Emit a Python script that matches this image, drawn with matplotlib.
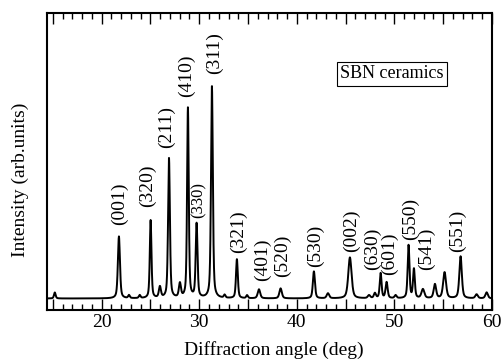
import numpy as np
import matplotlib
matplotlib.use('Agg')
import matplotlib.pyplot as plt
from matplotlib.ticker import MultipleLocator, FuncFormatter

plt.rcParams['font.family'] = ['Liberation Serif', 'DejaVu Serif']

# peak list: 2theta (deg), height (arb.), width (deg), label
pos = [15.2, 21.77, 22.8, 23.9, 25.02, 25.97, 26.9, 28.02, 28.84, 29.73, 31.3,
       32.6, 33.86, 34.9, 36.12, 38.34, 41.75, 43.19, 45.44, 47.4, 48.0, 48.59,
       49.2, 50.12, 51.45, 52.0, 52.92, 54.15, 55.14, 56.78, 58.42, 59.45]
height = [6, 62, 3, 3, 78, 11, 140, 14, 190, 74, 212,
          3, 39, 3, 9, 10, 27, 5, 41, 3, 5, 25,
          16, 3, 53, 29, 9, 14, 26, 42, 4, 6]
fwhm = [0.2, 0.25, 0.2, 0.2, 0.2, 0.25, 0.22, 0.25, 0.2, 0.22, 0.22,
        0.2, 0.22, 0.2, 0.3, 0.3, 0.25, 0.3, 0.4, 0.3, 0.25, 0.22,
        0.25, 0.25, 0.22, 0.22, 0.35, 0.3, 0.35, 0.3, 0.3, 0.3]
labels = ['', '(001)', '', '', '(320)', '', '(211)', '', '(410)', '(330)', '(311)',
          '', '(321)', '', '(401)', '(520)', '(530)', '', '(002)', '', '', '(630)',
          '(601)', '', '(550)', '', '(541)', '', '', '(551)', '', '']
label_y = [0, 75, 0, 0, 93, 0, 152, 0, 203, 82, 226,
           0, 47, 0, 19, 23, 33, 0, 48, 0, 0, 30,
           25, 0, 60, 0, 30, 0, 0, 48, 0, 0]
label_dx = [0, 1, 0, 0, -3, 0, -3, 0, -1, 2, 3,
            0, 2, 0, 4, 2, 2, 0, 2, 0, 0, -8,
            3, 0, 2, 0, 4, 0, 0, -3, 0, 0]
background = 1.5

x = np.linspace(14.4, 60, 5000)
y = np.full_like(x, background)
for p, h, w in zip(pos, height, fwhm):
    g = np.exp(-4 * np.log(2) * ((x - p) / w) ** 2)
    l = 1 / (1 + 4 * ((x - p) / w) ** 2)
    y += h * (0.5 * g + 0.5 * l)

fig = plt.figure(figsize=(5.02, 3.64), dpi=100)
ax = fig.add_axes([47 / 502, 1 - 310 / 364, 445 / 502, 297 / 364])
ax.plot(x, y, color='black', lw=1.4)
ax.set_xlim(14.4, 60)
ax.set_ylim(-10, 287)

for p, ly, dx, lab in zip(pos, label_y, label_dx, labels):
    if not lab:
        continue
    fs = 12 if lab == '(330)' else 14
    ax.annotate(lab, (p, ly), xytext=(dx * 0.72, 0), textcoords='offset points',
                rotation=90, ha='center', va='bottom', fontsize=fs)

ax.text(0.775, 0.795, 'SBN ceramics', transform=ax.transAxes, fontsize=13,
        ha='center', va='center',
        bbox=dict(boxstyle='square,pad=0.2', fc='white', ec='black', lw=0.8))

ax.xaxis.set_major_locator(MultipleLocator(5))
ax.xaxis.set_minor_locator(MultipleLocator(1))
ax.xaxis.set_major_formatter(FuncFormatter(lambda v, _: '%d' % v if v % 10 == 0 else ''))
ax.tick_params(axis='x', which='both', direction='in', top=True, bottom=True,
               labelsize=14, pad=3, width=1)
ax.tick_params(axis='x', which='major', length=8)
ax.tick_params(axis='x', which='minor', length=4)
ax.set_yticks([])
for s in ax.spines.values():
    s.set_linewidth(1.5)

ax.set_xlabel('Diffraction angle (deg)', fontsize=14)
ax.xaxis.set_label_coords(0.51, -0.105)
ax.set_ylabel('Intensity (arb.units)', fontsize=14)
ax.yaxis.set_label_coords(-0.040, 0.437)

fig.savefig('out.png', dpi=100)
